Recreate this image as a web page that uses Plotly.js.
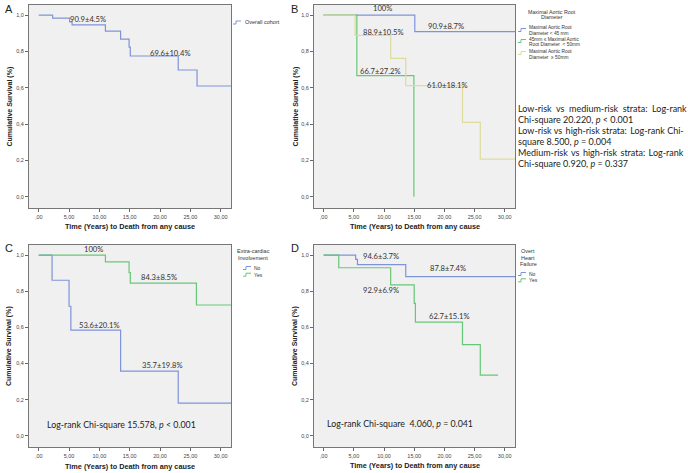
<!DOCTYPE html>
<html><head><meta charset="utf-8">
<script src="https://cdn.plot.ly/plotly-3.0.1.min.js"></script>
<style>html,body{margin:0;padding:0;background:#fff}#chart{width:688px;height:473px}</style>
</head><body><div id="chart"></div>
<script>
// ---- data ----
const xTickVals = [0, 5, 10, 15, 20, 25, 30];
const xTickText = [",00", "5,00", "10,00", "15,00", "20,00", "25,00", "30,00"];
const yTickVals = [0, 0.2, 0.4, 0.6, 0.8, 1.0];
const yTickText = ["0,0", "0,2", "0,4", "0,6", "0,8", "1,0"];

// Panel A: overall cohort
const aTimes = [2.3, 5.1, 5.5, 11.0, 13.5, 14.9, 15.1, 23.0, 26.1];
const aSurv  = [0.984, 0.963, 0.947, 0.912, 0.868, 0.824, 0.775, 0.698, 0.610];
const aEnd = 31.7;

// Panel B: maximal aortic root diameter
const bLowTimes = [15.1];
const bLowSurv  = [0.909];
const bLowEnd = 31.7;
const bMidTimes = [5.5, 14.95];
const bMidSurv  = [0.667, 0.0];
const bHighTimes = [5.2, 11.1, 13.6, 23.0, 25.95];
const bHighSurv  = [0.889, 0.762, 0.612, 0.41, 0.207];
const bHighEnd = 31.7;

// Panel C: extra-cardiac involvement
const cNoTimes = [2.2, 5.0, 5.3, 13.5, 23.0];
const cNoSurv  = [0.861, 0.717, 0.585, 0.358, 0.181];
const cNoEnd = 31.7;
const cYesTimes = [11.0, 14.9, 15.1, 26.0];
const cYesSurv  = [0.963, 0.903, 0.845, 0.724];
const cYesEnd = 31.7;

// Panel D: overt heart failure
const dNoTimes = [5.3, 5.6, 13.6];
const dNoSurv  = [0.976, 0.947, 0.881];
const dNoEnd = 31.7;
const dYesTimes = [2.5, 11.1, 15.0, 15.2, 23.0, 25.95];
const dYesSurv  = [0.93, 0.835, 0.733, 0.629, 0.505, 0.336];
const dYesEnd = 28.9;

// value labels [text, time, survival]
const aLabels = [["90.9±4.5%", 8.15, 0.978], ["69.6±10.4%", 21.8, 0.794]];
const bLabels = [["100%", 9.7, 1.038], ["90.9±8.7%", 20.2, 0.94], ["88.9±10.5%", 9.87, 0.905],
                 ["66.7±27.2%", 9.37, 0.694], ["61.0±18.1%", 20.45, 0.615]];
const cLabels = [["100%", 9.03, 1.035], ["84.3±8.5%", 19.85, 0.881], ["53.6±20.1%", 9.97, 0.612],
                 ["35.7±19.8%", 20.35, 0.391]];
const dLabels = [["94.6±3.7%", 9.49, 0.995], ["87.8±7.4%", 20.66, 0.93], ["92.9±6.9%", 9.54, 0.808],
                 ["62.7±15.1%", 20.83, 0.665]];
const cStat = "Log-rank Chi-square 15.578, <i>p</i> < 0.001";
const dStat = "Log-rank Chi-square\u00a0 4.060, <i>p</i> = 0.041";
const bStatLines = [
  "Low-risk\u00a0 vs\u00a0 medium-risk\u00a0 strata:\u00a0 Log-rank",
  "Chi-square 20.220, <i>p</i> < 0.001",
  "Low-risk vs\u2009 high-risk strata:\u2009 Log-rank Chi-",
  "square 8.500, <i>p</i> = 0.004",
  "Medium-risk\u2009 vs\u2009 high-risk\u2009 strata:\u2009 Log-rank",
  "Chi-square 0.920, <i>p</i> = 0.337"
];

// ---- styling ----
const BLUE = "#7f93d9", GREEN = "#66c777", YELLOW = "#dedb9c";
const W = 688, H = 473;
const px = v => v / W, py = v => 1 - v / H;

function step(times, surv, end) {
  const x = [0].concat(times), y = [1].concat(surv);
  if (end != null) { x.push(end); y.push(surv[surv.length - 1]); }
  return {x, y};
}
function trace(times, surv, end, color, ax) {
  const s = step(times, surv, end);
  return {x: s.x, y: s.y, type: "scatter", mode: "lines", line: {shape: "hv", color: color, width: 1.2},
          xaxis: "x" + ax, yaxis: "y" + ax, showlegend: false, hoverinfo: "skip"};
}
const data = [
  trace(aTimes, aSurv, aEnd, BLUE, ""),
  trace(bLowTimes, bLowSurv, bLowEnd, BLUE, "2"),
  trace(bMidTimes, bMidSurv, null, GREEN, "2"),
  trace(bHighTimes, bHighSurv, bHighEnd, YELLOW, "2"),
  trace(cNoTimes, cNoSurv, cNoEnd, BLUE, "3"),
  trace(cYesTimes, cYesSurv, cYesEnd, GREEN, "3"),
  trace(dNoTimes, dNoSurv, dNoEnd, BLUE, "4"),
  trace(dYesTimes, dYesSurv, dYesEnd, GREEN, "4"),
];

const FONT = "Liberation Sans, Arial, sans-serif";
function xax(dom, anchor) {
  return {domain: dom, anchor: anchor, range: [-1.6, 31.7], tickvals: xTickVals, ticktext: xTickText,
          ticks: "outside", ticklen: 3, tickcolor: "#666", tickfont: {size: 5.5, color: "#444", family: FONT},
          showline: true, linecolor: "#777", linewidth: 1, mirror: true, showgrid: false, zeroline: false, fixedrange: true};
}
function yax(dom, anchor) {
  return {domain: dom, anchor: anchor, range: [-0.062, 1.056], tickvals: yTickVals, ticktext: yTickText,
          ticks: "outside", ticklen: 3, tickcolor: "#666", tickfont: {size: 5.5, color: "#444", family: FONT},
          showline: true, linecolor: "#777", linewidth: 1, mirror: true, showgrid: false, zeroline: false, fixedrange: true};
}
const colL = [px(29), px(231)], colR = [px(314), px(515)];
const rowT = [py(208), py(5)], rowB = [py(447), py(245)];

const ann = [];
function lab(list, ax) {
  list.forEach(l => ann.push({text: l[0], x: l[1], y: l[2], xref: "x" + ax, yref: "y" + ax, showarrow: false,
    xanchor: "center", yanchor: "middle", font: {family: "Lato, sans-serif", size: 7.6, color: "#333"}}));
}
lab(aLabels, ""); lab(bLabels, "2"); lab(cLabels, "3"); lab(dLabels, "4");
ann.push({text: cStat, x: 13.64, y: 0.062, xref: "x3", yref: "y3", showarrow: false, xanchor: "center", yanchor: "middle",
          font: {family: "Lato, sans-serif", size: 8.8, color: "#222"}});
ann.push({text: dStat, x: 12.68, y: 0.067, xref: "x4", yref: "y4", showarrow: false, xanchor: "center", yanchor: "middle",
          font: {family: "Lato, sans-serif", size: 8.8, color: "#222"}});
bStatLines.forEach((t, i) =>
  ann.push({text: t, x: px(516), y: py(108 + i * 11.2), xref: "paper", yref: "paper", xanchor: "left",
            yanchor: "middle", align: "left", showarrow: false, font: {family: "Lato, sans-serif", size: 9, color: "#222"}}));

function paperText(t, x, y, xa, size, extra) {
  ann.push(Object.assign({text: t, x: px(x), y: py(y), xref: "paper", yref: "paper", xanchor: xa, yanchor: "middle",
            align: xa === "left" ? "left" : "center", showarrow: false,
            font: {family: FONT, size: size, color: "#333"}}, extra || {}));
}
// panel letters
[["A", 8.5, 9], ["B", 294, 9], ["C", 8.5, 248.5], ["D", 294.5, 248.5]].forEach(p =>
  paperText(p[0], p[1], p[2], "center", 11, {font: {family: FONT, size: 11, color: "#222"}}));
// axis titles
const YT = "Cumulative Survival (%)", XT = "Time (Years) to Death from any cause";
[[9, 106.5], [295, 106.5], [9, 346], [295, 346]].forEach(p =>
  paperText("<b>" + YT + "</b>", p[0], p[1], "center", 7, {textangle: -90, font: {family: FONT, size: 7, color: "#222"}}));
[[130, 226.7], [414.5, 226.7], [130, 466], [414.5, 465.3]].forEach(p =>
  paperText("<b>" + XT + "</b>", p[0], p[1], "center", 7.3, {font: {family: FONT, size: 7.3, color: "#222"}}));

// legends (text + small step glyphs)
const shapes = [];
function glyph(x0, y, color) {
  const p = "M" + px(x0) + "," + py(y + 1.5) + " L" + px(x0 + 3) + "," + py(y + 1.5) + " L" + px(x0 + 3) + "," + py(y - 1.5) +
            " L" + px(x0 + 8) + "," + py(y - 1.5);
  shapes.push({type: "path", xref: "paper", yref: "paper", path: p, line: {color: color, width: 1}});
}
function lines(arr, x, y0, dy, xa, size) { arr.forEach((t, i) => paperText(t, x, y0 + i * dy, xa, size)); }

paperText("Overall cohort", 243, 22.5, "left", 5.5); glyph(233, 22.5, BLUE);
lines(["Maximal Aortic Root", "Diameter"], 551.5, 11.7, 5.8, "center", 5.3);
lines(["Maximal Aortic Root", "Diameter < 45 mm"], 526.5, 27.3, 5.7, "left", 4.8); glyph(518, 30, BLUE);
lines(["45mm ≤ Maximal Aortic", "Root Diameter\u00a0 < 50mm"], 526.5, 39, 5.7, "left", 4.8); glyph(518, 41, GREEN);
lines(["Maximal Aortic Root", "Diameter\u00a0 ≥ 50mm"], 526.5, 51.7, 5.7, "left", 4.8); glyph(518, 53, YELLOW);
lines(["Extra-cardiac", "Involvement"], 253, 251, 7.3, "center", 5.5);
paperText("No", 251.5, 268, "left", 5); glyph(243, 268, BLUE);
paperText("Yes", 251.5, 274.7, "left", 5); glyph(243, 274.7, GREEN);
lines(["Overt", "Heart", "Failure"], 528.3, 251, 6.5, "center", 5.5);
paperText("No", 526.5, 274, "left", 5); glyph(518, 274, BLUE);
paperText("Yes", 526.5, 280.3, "left", 5); glyph(518, 280.3, GREEN);

const layout = {
  width: W, height: H, margin: {l: 0, r: 0, t: 0, b: 0}, paper_bgcolor: "#ffffff", plot_bgcolor: "#f0f0f0",
  showlegend: false, font: {family: FONT},
  xaxis: xax(colL, "y"), yaxis: yax(rowT, "x"),
  xaxis2: xax(colR, "y2"), yaxis2: yax(rowT, "x2"),
  xaxis3: xax(colL, "y3"), yaxis3: yax(rowB, "x3"),
  xaxis4: xax(colR, "y4"), yaxis4: yax(rowB, "x4"),
  annotations: ann, shapes: shapes
};
Plotly.newPlot("chart", data, layout, {displayModeBar: false, staticPlot: true});
</script></body></html>
